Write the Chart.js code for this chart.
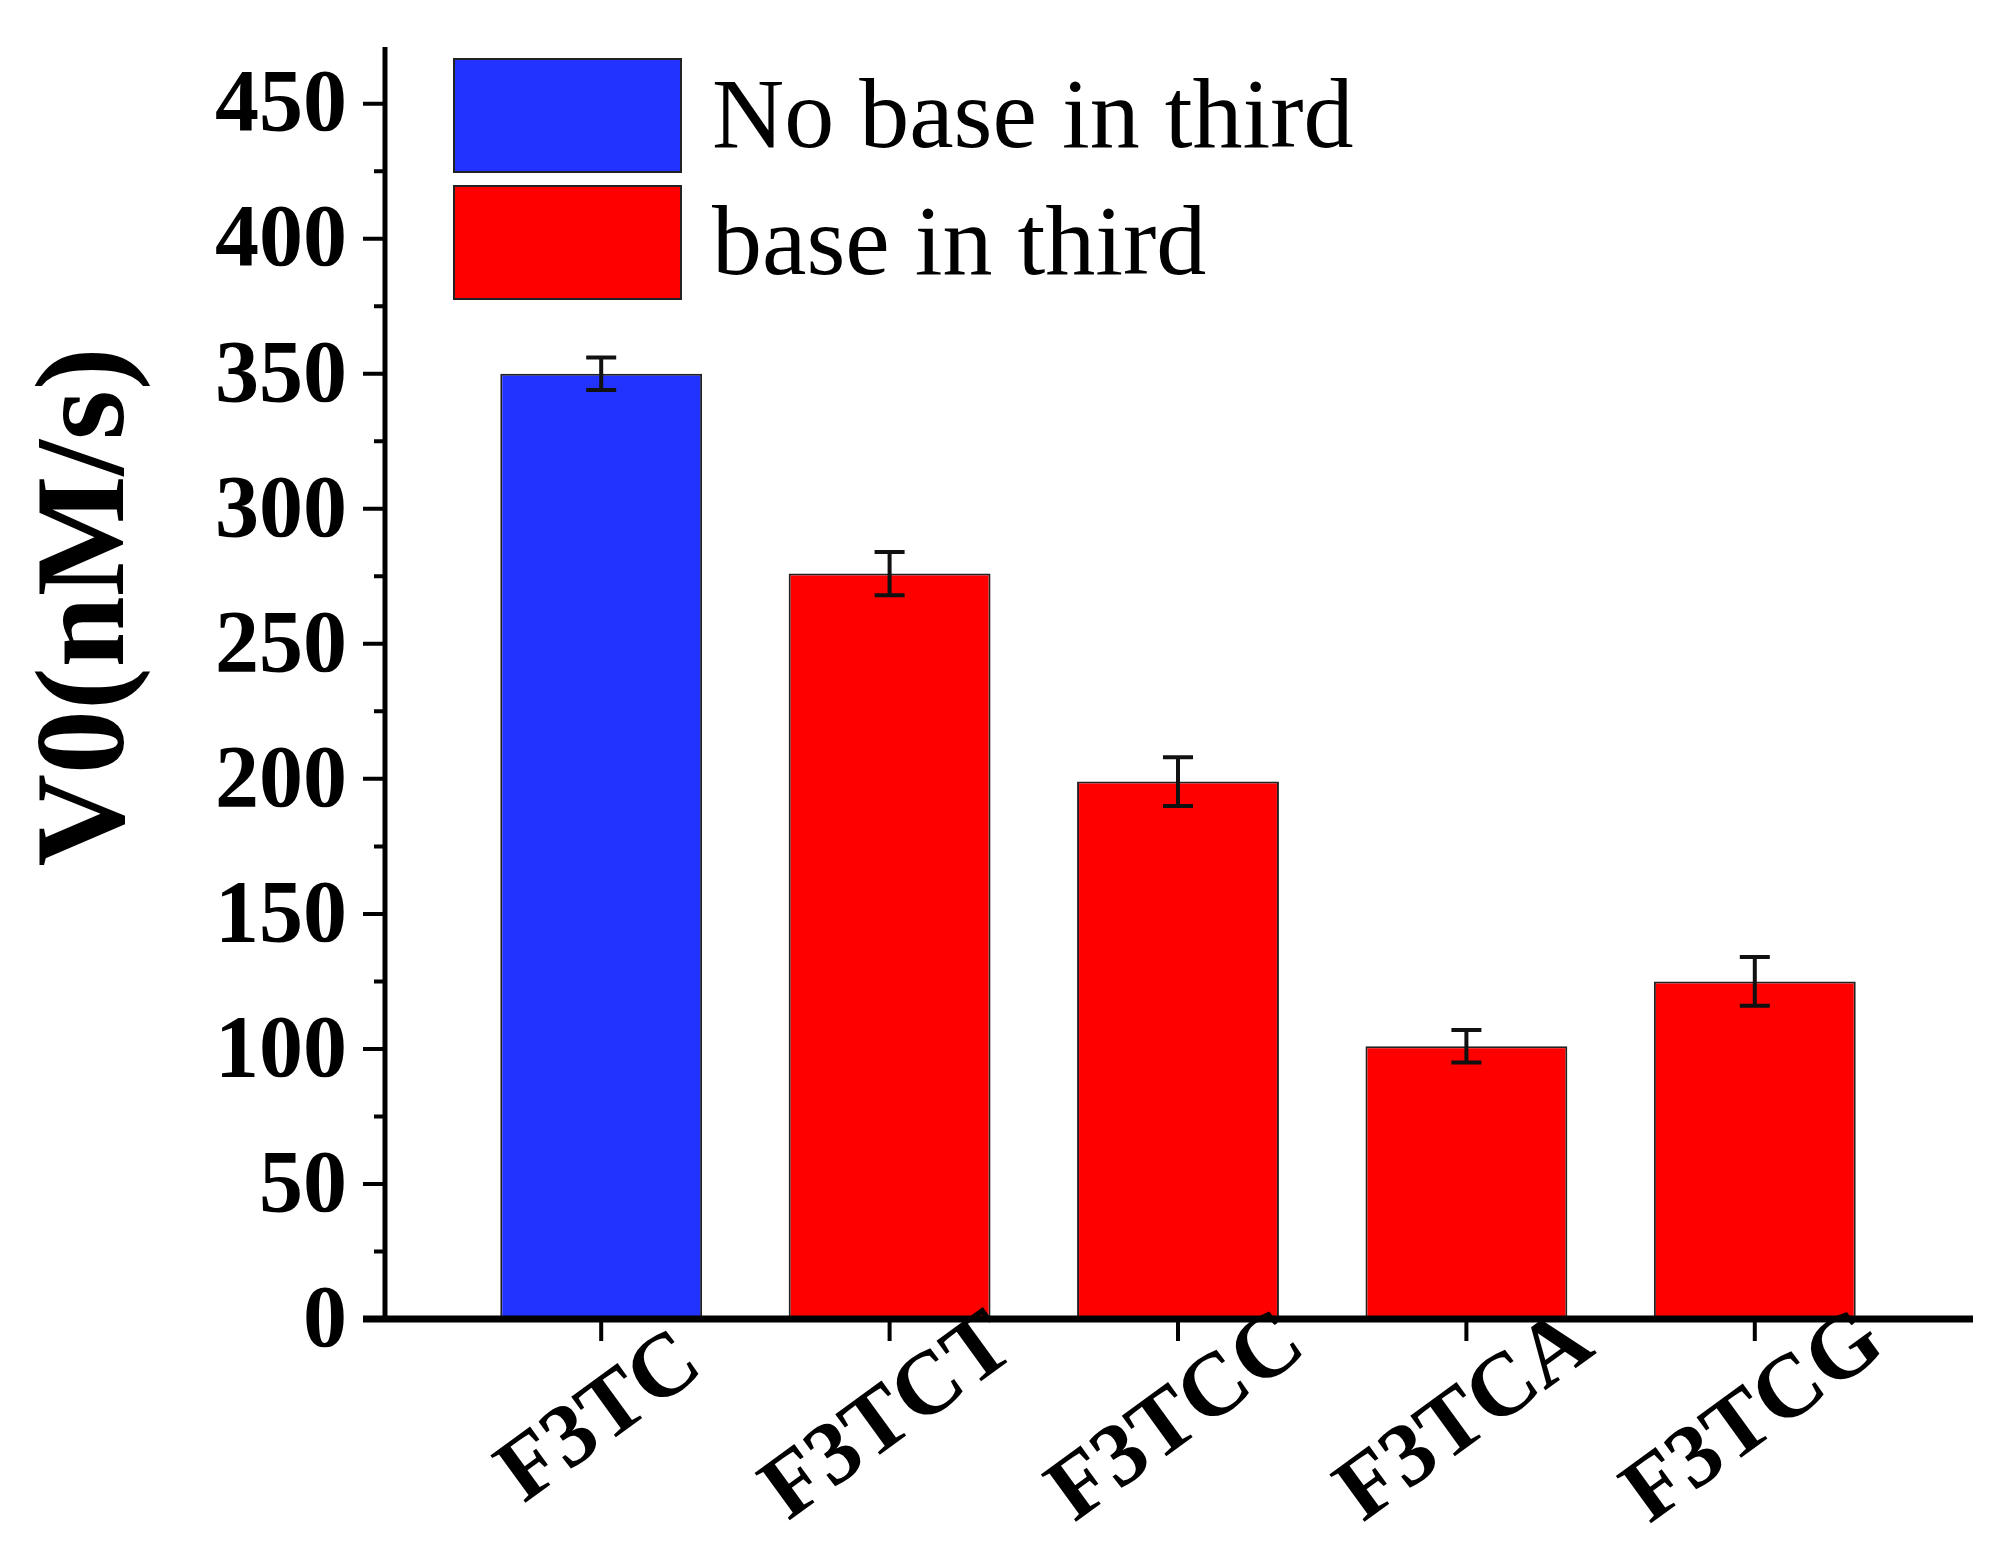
<!DOCTYPE html>
<html><head><meta charset="utf-8">
<script src="https://cdn.jsdelivr.net/npm/chart.js@4/dist/chart.umd.min.js"></script>
<style>html,body{margin:0;padding:0;background:#fff}#wrap{width:2004px;height:1557px}</style>
</head><body><div id="wrap"><canvas id="c"></canvas></div>
<script>
const categories = ['F3TC','F3TCT','F3TCC','F3TCA','F3TCG'];
const values = [350, 276, 199, 101, 125];
const errors = [6, 8, 9, 6, 9];
const barColors = ['#2233ff','#ff0000','#ff0000','#ff0000','#ff0000'];
const legendLabels = ['No base in third','base in third'];
const legendColors = ['#2233ff','#ff0000'];
const yTicks = [0,50,100,150,200,250,300,350,400,450];

const AXIS_X = 385, AXIS_RIGHT = 1973;

const extras = {
  id:'extras',
  afterDraw(chart){
    const ctx = chart.ctx, x = chart.scales.x, y = chart.scales.y;
    const area = chart.chartArea;
    ctx.save();
    // error bars
    ctx.strokeStyle = '#111'; ctx.lineWidth = 4;
    values.forEach((v,i)=>{
      const cx = x.getPixelForValue(i);
      const top = y.getPixelForValue(v+errors[i]), bot = y.getPixelForValue(v-errors[i]);
      ctx.beginPath();
      ctx.moveTo(cx,top); ctx.lineTo(cx,bot);
      ctx.moveTo(cx-15,top); ctx.lineTo(cx+15,top);
      ctx.moveTo(cx-15,bot); ctx.lineTo(cx+15,bot);
      ctx.stroke();
    });
    // axes
    ctx.strokeStyle = '#000'; ctx.lineWidth = 5;
    ctx.beginPath();
    ctx.moveTo(AXIS_X, area.top); ctx.lineTo(AXIS_X, area.bottom);
    ctx.stroke();
    ctx.lineWidth = 7;
    ctx.beginPath();
    ctx.moveTo(AXIS_X-22, area.bottom); ctx.lineTo(AXIS_RIGHT, area.bottom);
    ctx.stroke();
    ctx.lineWidth = 4;
    ctx.beginPath();
    for(let v=0; v<=470; v+=25){
      const py = y.getPixelForValue(v);
      const len = (v%50===0) ? 22 : 11;
      ctx.moveTo(AXIS_X-len, py); ctx.lineTo(AXIS_X, py);
    }
    categories.forEach((c,i)=>{
      const px = x.getPixelForValue(i);
      ctx.moveTo(px, area.bottom); ctx.lineTo(px, area.bottom+22);
    });
    ctx.stroke();
    // y tick labels
    ctx.fillStyle = '#000';
    ctx.font = 'bold 88px "Liberation Serif"';
    ctx.textAlign = 'right'; ctx.textBaseline = 'middle';
    yTicks.forEach(v=>{
      ctx.fillText(String(v), AXIS_X - 38, y.getPixelForValue(v) + 4);
    });
    // x labels
    ctx.font = 'bold 90px "Liberation Serif"';
    ctx.textAlign = 'center';
    categories.forEach((c,i)=>{
      const px = x.getPixelForValue(i);
      ctx.save();
      ctx.translate(px, area.bottom + 100);
      ctx.rotate(-36*Math.PI/180);
      ctx.fillText(c, 0, 0);
      ctx.restore();
    });
    // y title
    ctx.save();
    ctx.translate(90, 607);
    ctx.rotate(-Math.PI/2);
    ctx.font = 'bold 128px "Liberation Serif"';
    ctx.fillText('V0(nM/s)', 0, 0);
    ctx.restore();
    // legend
    ctx.font = '100px "Liberation Serif"';
    ctx.textAlign = 'left';
    legendLabels.forEach((l,i)=>{
      const ty = 59 + i*127;
      ctx.fillStyle = legendColors[i];
      ctx.fillRect(454, ty, 227, 113);
      ctx.strokeStyle = '#222'; ctx.lineWidth = 2;
      ctx.strokeRect(454, ty, 227, 113);
      ctx.fillStyle = '#000';
      ctx.fillText(l, 712, ty + 62);
    });
    ctx.restore();
  }
};

new Chart(document.getElementById('c'), {
  type:'bar',
  data:{labels:categories, datasets:[{data:values, backgroundColor:barColors, borderColor:'#222', borderWidth:2, categoryPercentage:1, barPercentage:0.7}]},
  options:{
    responsive:true, maintainAspectRatio:false, animation:false,
    layout:{padding:{top:47, right:105, left:0, bottom:0}},
    plugins:{legend:{display:false}, tooltip:{enabled:false}},
    scales:{
      x:{grid:{display:false}, border:{display:false}, ticks:{display:false},
         afterFit(s){ s.height = 238; }},
      y:{min:0, max:471, grid:{display:false}, border:{display:false},
         ticks:{display:false},
         afterFit(s){ s.width = 457; }}
    }
  },
  plugins:[extras]
});
</script></body></html>
